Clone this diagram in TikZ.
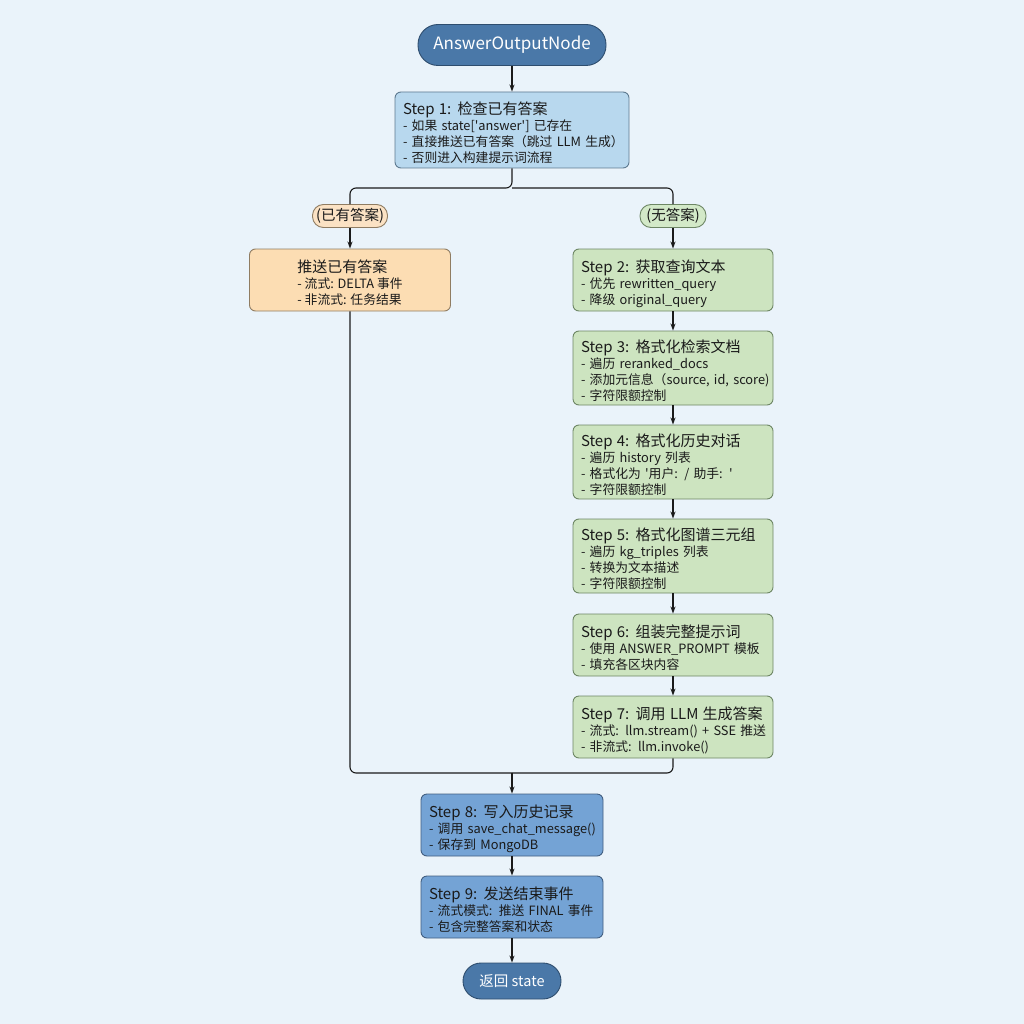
\documentclass[tikz,border=0pt]{standalone}
\usepackage{fontspec}
\setmainfont{Noto Sans CJK SC}[Ligatures=TeXOff]
\usepackage{xcolor}
\usetikzlibrary{arrows.meta}

\definecolor{bgblue}{HTML}{EAF3FA}
\definecolor{darkfill}{HTML}{4A78A8}
\definecolor{darkline}{HTML}{2E4D6E}
\definecolor{lightfill}{HTML}{B8D8EE}
\definecolor{lightline}{HTML}{5E7A90}
\definecolor{orangefill}{HTML}{FCDDB3}
\definecolor{orangepill}{HTML}{FBE2C4}
\definecolor{orangeline}{HTML}{8F7C62}
\definecolor{greenfill}{HTML}{CDE4C0}
\definecolor{greenpill}{HTML}{D3E9C8}
\definecolor{greenline}{HTML}{6D8664}
\definecolor{midfill}{HTML}{74A3D5}
\definecolor{midline}{HTML}{415E80}
\definecolor{inkgray}{HTML}{1A1A1A}

% title line + body lines, no line breaking inside
\newcommand{\steptext}[2]{\begin{tabular}{@{}l@{}}\rule{0pt}{21pt}{\fontsize{15}{17}\selectfont #1}\\#2\end{tabular}}

\begin{document}
\begin{tikzpicture}[x=1pt,y=-1pt,
    arr/.style={-{Stealth[length=7pt,width=5pt]}, line width=1.1pt, inkgray},
    link/.style={line width=1.1pt, inkgray, rounded corners=6pt},
    pill/.style={draw=darkline, line width=0.9pt, fill=darkfill, text=white, rounded corners=18pt, inner sep=0pt},
    stepbox/.style={draw=#1line, line width=0.9pt, fill=#1fill, rounded corners=6pt, align=left, inner xsep=8pt, inner ysep=0pt, text=inkgray, font=\fontsize{12.8}{16}\selectfont},
    branch/.style={draw=#1line, line width=0.9pt, fill=#1pill, rounded corners=11pt, inner sep=0pt, minimum height=23pt, text=inkgray, font=\fontsize{14.5}{16}\selectfont}
  ]
  \useasboundingbox[fill=bgblue] (0,0) rectangle (1024,1024);

  % top and start
  \node[pill, minimum width=188pt, minimum height=41pt, rounded corners=20pt, font=\fontsize{17}{20}\selectfont] (start) at (512,45) {AnswerOutputNode};
  \node[stepbox=light, text width=218pt, minimum height=76pt] (step1) at (512,130)
    {\steptext{Step 1: 检查已有答案}{- 如果 state['answer'] 已存在\\- 直接推送已有答案（跳过 LLM 生成）\\- 否则进入构建提示词流程}};

  % branches
  \node[branch=orange, minimum width=75pt] (yes) at (350,216) {(已有答案)};
  \node[branch=green, minimum width=66pt] (no) at (673,216) {(无答案)};
  \node[stepbox=orange, minimum width=201pt, minimum height=62pt] (push) at (350,280)
    {\steptext{推送已有答案}{- 流式: DELTA 事件\\- 非流式: 任务结果}};

  % right column
  \node[stepbox=green, text width=184pt, minimum height=62pt] (step2) at (673,280)
    {\steptext{Step 2: 获取查询文本}{- 优先 rewritten\_query\\- 降级 original\_query}};
  \node[stepbox=green, text width=184pt, minimum height=74pt] (step3) at (673,368)
    {\steptext{Step 3: 格式化检索文档}{- 遍历 reranked\_docs\\- 添加元信息（source, id, score)\\- 字符限额控制}};
  \node[stepbox=green, text width=184pt, minimum height=74pt] (step4) at (673,462)
    {\steptext{Step 4: 格式化历史对话}{- 遍历 history 列表\\- 格式化为 '用户: / 助手: '\\- 字符限额控制}};
  \node[stepbox=green, text width=184pt, minimum height=74pt] (step5) at (673,556)
    {\steptext{Step 5: 格式化图谱三元组}{- 遍历 kg\_triples 列表\\- 转换为文本描述\\- 字符限额控制}};
  \node[stepbox=green, text width=184pt, minimum height=62pt] (step6) at (673,645)
    {\steptext{Step 6: 组装完整提示词}{- 使用 ANSWER\_PROMPT 模板\\- 填充各区块内容}};
  \node[stepbox=green, text width=184pt, minimum height=62pt] (step7) at (673,727)
    {\steptext{Step 7: 调用 LLM 生成答案}{- 流式: llm.stream() + SSE 推送\\- 非流式: llm.invoke()}};

  % bottom
  \node[stepbox=mid, text width=166pt, minimum height=62pt] (step8) at (512,825)
    {\steptext{Step 8: 写入历史记录}{- 调用 save\_chat\_message()\\- 保存到 MongoDB}};
  \node[stepbox=mid, text width=166pt, minimum height=62pt] (step9) at (512,907)
    {\steptext{Step 9: 发送结束事件}{- 流式模式: 推送 FINAL 事件\\- 包含完整答案和状态}};
  \node[pill, minimum width=98pt, minimum height=36pt, font=\fontsize{14.5}{17}\selectfont] (done) at (512,981) {返回 state};

  \coordinate (split) at (512,188);
  \coordinate (merge) at (512,773);

  % connectors
  \draw[arr] (start) -- (step1);
  \draw[link] (step1.south) -- (split) -| (yes.north);
  \draw[link] (split) -| (no.north);
  \draw[arr] (yes) -- (push);
  \draw[arr] (no) -- (step2);
  \draw[arr] (step2) -- (step3);
  \draw[arr] (step3) -- (step4);
  \draw[arr] (step4) -- (step5);
  \draw[arr] (step5) -- (step6);
  \draw[arr] (step6) -- (step7);
  \draw[link] (push.south) |- (merge);
  \draw[link] (step7.south) |- (merge);
  \draw[arr] (merge) -- (step8);
  \draw[arr] (step8) -- (step9);
  \draw[arr] (step9) -- (done);
\end{tikzpicture}
\end{document}
